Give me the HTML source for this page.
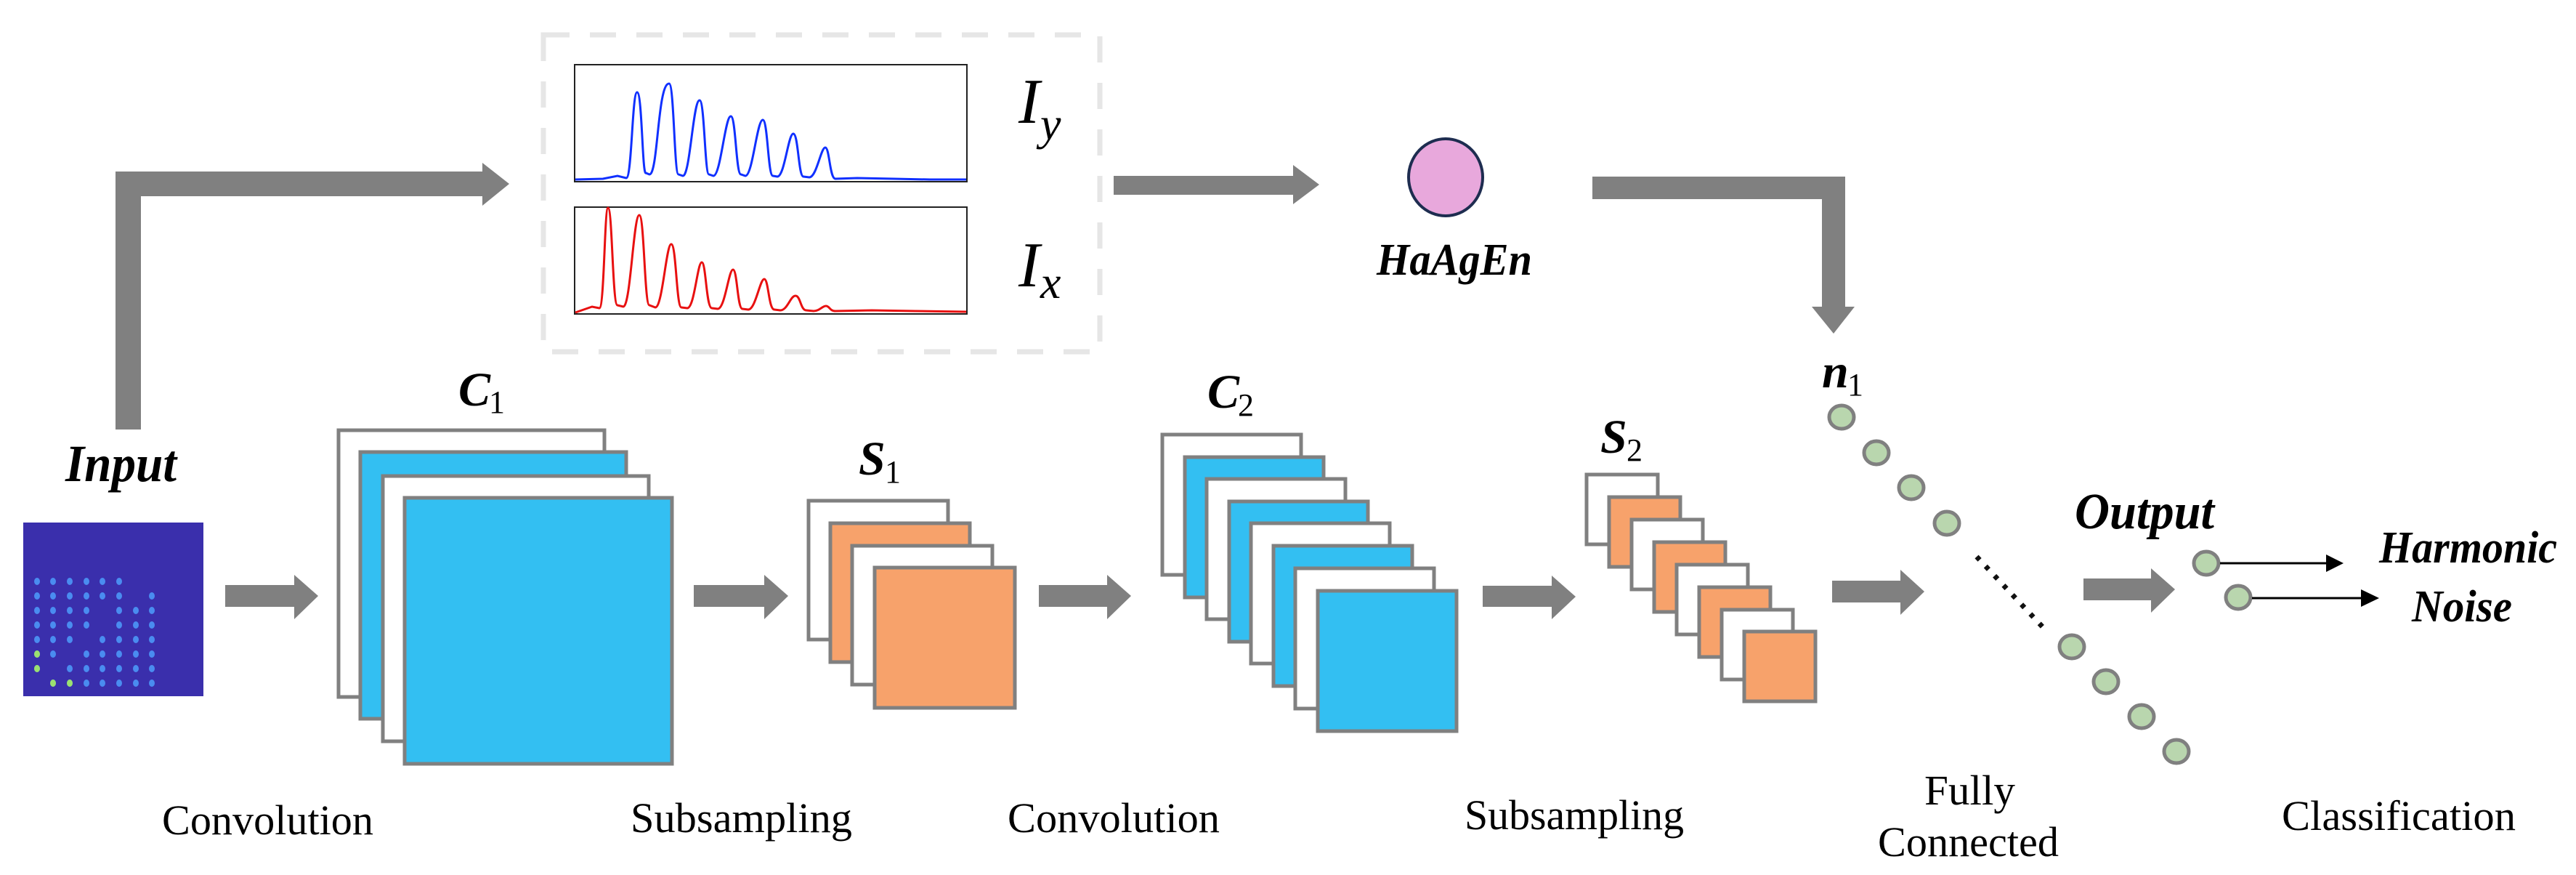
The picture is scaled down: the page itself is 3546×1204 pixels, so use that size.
<!DOCTYPE html>
<html><head><meta charset="utf-8"><style>html,body{margin:0;padding:0;background:#fff}svg{display:block}</style></head><body>
<svg width="3546" height="1204" viewBox="0 0 3546 1204" xmlns="http://www.w3.org/2000/svg" font-family="Liberation Serif, serif">
<rect width="3546" height="1204" fill="#fff"/>
<!-- dashed box -->
<rect x="748" y="48" width="766" height="436" fill="none" stroke="#e6e6e6" stroke-width="7" stroke-dasharray="36,28"/>
<!-- plots -->
<rect x="791" y="89" width="540" height="161" fill="#fff" stroke="#222" stroke-width="2"/>
<rect x="791" y="285" width="540" height="147" fill="#fff" stroke="#222" stroke-width="2"/>
<path fill="none" stroke="#1030ff" stroke-width="3" d="M792 247 L830 246 L850 242 L862 245 C870 245 870 127 877 127 C884 127 884 240 889 238 L894 240 C906 240 905 115 921 115 C928 115 928 240 934 240 L940 242 C950 242 954 138 963 138 C970 138 970 240 976 240 L982 242 C992 242 998 160 1006 160 C1013 160 1013 240 1020 240 L1026 242 C1036 242 1042 165 1050 165 C1057 165 1057 242 1064 242 L1070 243 C1080 243 1085 184 1092 184 C1099 184 1099 243 1106 243 L1114 244 C1124 244 1130 203 1136 203 C1142 203 1142 246 1150 246 L1180 245 L1230 246 L1280 247 L1330 247"/>
<path fill="none" stroke="#e81010" stroke-width="3" d="M792 430 L815 422 L825 424 C832 424 832 286 837 286 C843 286 843 420 850 420 L858 422 C868 422 872 296 880 296 C887 296 887 420 894 420 L902 423 C912 423 917 336 924 336 C931 336 931 423 938 423 L946 424 C956 424 960 361 966 361 C972 361 972 424 980 424 L988 425 C998 425 1003 371 1009 371 C1015 371 1015 425 1022 425 L1030 426 C1040 426 1046 384 1052 384 C1058 384 1058 426 1066 426 L1074 427 C1084 427 1088 407 1095 407 C1102 407 1102 427 1110 427 L1120 428 C1128 428 1132 421 1137 421 C1142 421 1142 428 1150 428 L1200 427 L1260 428 L1330 429"/>
<text x="1402" y="169" font-size="88" font-style="italic">I</text><text x="1432" y="192" font-size="64" font-style="italic">y</text>
<text x="1402" y="394" font-size="88" font-style="italic">I</text><text x="1432" y="410" font-size="64" font-style="italic">x</text>
<g fill="#808080">
<!-- input L arrow -->
<rect x="159" y="236" width="35" height="355"/>
<rect x="159" y="236" width="508" height="34"/>
<polygon points="664,224 701,253 664,283"/>
<!-- box to HaAgEn -->
<rect x="1533" y="242" width="250" height="26"/>
<polygon points="1780,227 1816,254 1780,281"/>
<!-- right L arrow -->
<rect x="2192" y="243" width="348" height="31"/>
<rect x="2508" y="243" width="32" height="182"/>
<polygon points="2494,422 2553,422 2524,459"/>
<!-- horizontal arrows -->
<rect x="310" y="805" width="98" height="30"/><polygon points="405,791 438,820 405,852"/>
<rect x="955" y="805" width="100" height="30"/><polygon points="1052,791 1085,820 1052,852"/>
<rect x="1430" y="805" width="97" height="30"/><polygon points="1524,791 1557,820 1524,852"/>
<rect x="2041" y="806" width="98" height="29"/><polygon points="2136,792 2169,821 2136,852"/>
<rect x="2522" y="799" width="97" height="30"/><polygon points="2616,784 2649,814 2616,846"/>
<rect x="2868" y="796" width="96" height="30"/><polygon points="2961,782 2994,811 2961,843"/>
</g>
<!-- HaAgEn -->
<ellipse cx="1990" cy="244" rx="51" ry="53" fill="#e8a8dc" stroke="#1e2d50" stroke-width="4"/>
<text x="1895" y="378" font-size="62" font-weight="bold" font-style="italic" textLength="214" lengthAdjust="spacingAndGlyphs">HaAgEn</text>
<!-- input image -->
<rect x="32" y="719" width="248" height="239" fill="#3a2fac"/>
<g fill="#4a8cf0">
<ellipse cx="51" cy="800" rx="4" ry="5"/><ellipse cx="73" cy="800" rx="4" ry="5"/><ellipse cx="96" cy="800" rx="4" ry="5"/><ellipse cx="119" cy="800" rx="4" ry="5"/><ellipse cx="141" cy="800" rx="4" ry="5"/><ellipse cx="164" cy="800" rx="4" ry="5"/>
<ellipse cx="51" cy="820" rx="4" ry="5"/><ellipse cx="73" cy="820" rx="4" ry="5"/><ellipse cx="96" cy="820" rx="4" ry="5"/><ellipse cx="119" cy="820" rx="4" ry="5"/><ellipse cx="141" cy="820" rx="4" ry="5"/><ellipse cx="164" cy="820" rx="4" ry="5"/><ellipse cx="209" cy="820" rx="4" ry="5"/>
<ellipse cx="51" cy="840" rx="4" ry="5"/><ellipse cx="73" cy="840" rx="4" ry="5"/><ellipse cx="96" cy="840" rx="4" ry="5"/><ellipse cx="119" cy="840" rx="4" ry="5"/><ellipse cx="164" cy="840" rx="4" ry="5"/><ellipse cx="187" cy="840" rx="4" ry="5"/><ellipse cx="209" cy="840" rx="4" ry="5"/>
<ellipse cx="51" cy="860" rx="4" ry="5"/><ellipse cx="73" cy="860" rx="4" ry="5"/><ellipse cx="96" cy="860" rx="4" ry="5"/><ellipse cx="119" cy="860" rx="4" ry="5"/><ellipse cx="164" cy="860" rx="4" ry="5"/><ellipse cx="187" cy="860" rx="4" ry="5"/><ellipse cx="209" cy="860" rx="4" ry="5"/>
<ellipse cx="51" cy="880" rx="4" ry="5"/><ellipse cx="73" cy="880" rx="4" ry="5"/><ellipse cx="96" cy="880" rx="4" ry="5"/><ellipse cx="141" cy="880" rx="4" ry="5"/><ellipse cx="164" cy="880" rx="4" ry="5"/><ellipse cx="187" cy="880" rx="4" ry="5"/><ellipse cx="209" cy="880" rx="4" ry="5"/>
<ellipse cx="51" cy="900" rx="4" ry="5"/><ellipse cx="73" cy="900" rx="4" ry="5"/><ellipse cx="119" cy="900" rx="4" ry="5"/><ellipse cx="141" cy="900" rx="4" ry="5"/><ellipse cx="164" cy="900" rx="4" ry="5"/><ellipse cx="187" cy="900" rx="4" ry="5"/><ellipse cx="209" cy="900" rx="4" ry="5"/>
<ellipse cx="51" cy="920" rx="4" ry="5"/><ellipse cx="96" cy="920" rx="4" ry="5"/><ellipse cx="119" cy="920" rx="4" ry="5"/><ellipse cx="141" cy="920" rx="4" ry="5"/><ellipse cx="164" cy="920" rx="4" ry="5"/><ellipse cx="187" cy="920" rx="4" ry="5"/><ellipse cx="209" cy="920" rx="4" ry="5"/>
<ellipse cx="73" cy="940" rx="4" ry="5"/><ellipse cx="96" cy="940" rx="4" ry="5"/><ellipse cx="119" cy="940" rx="4" ry="5"/><ellipse cx="141" cy="940" rx="4" ry="5"/><ellipse cx="164" cy="940" rx="4" ry="5"/><ellipse cx="187" cy="940" rx="4" ry="5"/><ellipse cx="209" cy="940" rx="4" ry="5"/>
</g>
<g fill="#9be070"><ellipse cx="51" cy="900" rx="4" ry="5"/><ellipse cx="51" cy="920" rx="4" ry="5"/><ellipse cx="73" cy="940" rx="4" ry="5"/><ellipse cx="96" cy="940" rx="4" ry="5"/></g>
<text x="90" y="662" font-size="72" font-weight="bold" font-style="italic" textLength="153" lengthAdjust="spacingAndGlyphs">Input</text>
<!-- C1 -->
<g stroke="#808080" stroke-width="5">
<rect x="466" y="592" width="366" height="367" fill="#fff"/>
<rect x="496" y="622" width="366" height="367" fill="#33bff2"/>
<rect x="527" y="655" width="366" height="365" fill="#fff"/>
<rect x="557" y="685" width="368" height="366" fill="#33bff2"/>
<!-- S1 -->
<rect x="1113" y="689" width="192" height="191" fill="#fff"/>
<rect x="1143" y="720" width="192" height="191" fill="#f7a26b"/>
<rect x="1173" y="751" width="193" height="191" fill="#fff"/>
<rect x="1204" y="781" width="193" height="193" fill="#f7a26b"/>
<!-- C2 -->
<rect x="1600" y="598" width="191" height="193" fill="#fff"/>
<rect x="1631" y="629" width="191" height="193" fill="#33bff2"/>
<rect x="1661" y="659" width="191" height="193" fill="#fff"/>
<rect x="1692" y="690" width="191" height="193" fill="#33bff2"/>
<rect x="1722" y="720" width="191" height="193" fill="#fff"/>
<rect x="1753" y="751" width="191" height="193" fill="#33bff2"/>
<rect x="1783" y="782" width="191" height="193" fill="#fff"/>
<rect x="1814" y="813" width="191" height="193" fill="#33bff2"/>
<!-- S2 -->
<rect x="2184" y="653" width="98" height="96" fill="#fff"/>
<rect x="2215" y="684" width="98" height="96" fill="#f7a26b"/>
<rect x="2246" y="715" width="98" height="96" fill="#fff"/>
<rect x="2277" y="746" width="98" height="96" fill="#f7a26b"/>
<rect x="2308" y="777" width="98" height="96" fill="#fff"/>
<rect x="2339" y="808" width="98" height="96" fill="#f7a26b"/>
<rect x="2370" y="839" width="98" height="96" fill="#fff"/>
<rect x="2401" y="869" width="98" height="96" fill="#f7a26b"/>
</g>
<g font-weight="bold" font-style="italic">
<text x="631" y="558" font-size="66">C</text><text x="673" y="568" font-size="44" font-weight="normal" font-style="normal">1</text>
<text x="1182" y="653" font-size="66">S</text><text x="1218" y="664" font-size="44" font-weight="normal" font-style="normal">1</text>
<text x="1662" y="561" font-size="66">C</text><text x="1704" y="572" font-size="44" font-weight="normal" font-style="normal">2</text>
<text x="2203" y="623" font-size="66">S</text><text x="2239" y="634" font-size="44" font-weight="normal" font-style="normal">2</text>
<text x="2508" y="533" font-size="66">n</text><text x="2543" y="544" font-size="44" font-weight="normal" font-style="normal">1</text>
<text x="2856" y="727" font-size="70" textLength="192" lengthAdjust="spacingAndGlyphs">Output</text>
<text x="3275" y="774" font-size="62" textLength="245" lengthAdjust="spacingAndGlyphs">Harmonic</text>
<text x="3320" y="855" font-size="62" textLength="138" lengthAdjust="spacingAndGlyphs">Noise</text>
</g>
<!-- neurons -->
<g fill="#b9d6ae" stroke="#808080" stroke-width="5">
<ellipse cx="2535" cy="574" rx="17" ry="16"/><ellipse cx="2583" cy="623" rx="17" ry="16"/><ellipse cx="2631" cy="671" rx="17" ry="16"/><ellipse cx="2680" cy="720" rx="17" ry="16"/>
<ellipse cx="2852" cy="890" rx="17" ry="16"/><ellipse cx="2899" cy="938" rx="17" ry="16"/><ellipse cx="2948" cy="986" rx="17" ry="16"/><ellipse cx="2996" cy="1034" rx="17" ry="16"/>
<ellipse cx="3037" cy="775" rx="17" ry="16"/><ellipse cx="3081" cy="822" rx="17" ry="16"/>
</g>
<line x1="2721" y1="766" x2="2813" y2="864" stroke="#111" stroke-width="7" stroke-dasharray="6,12"/>
<line x1="3056" y1="775" x2="3205" y2="775" stroke="#000" stroke-width="3"/><polygon points="3202,763 3226,775 3202,787"/>
<line x1="3100" y1="823" x2="3252" y2="823" stroke="#000" stroke-width="3"/><polygon points="3250,811 3275,823 3250,835"/>
<!-- bottom labels -->
<g font-size="58" fill="#000">
<text x="223" y="1148" textLength="291" lengthAdjust="spacingAndGlyphs">Convolution</text>
<text x="868" y="1145" textLength="305" lengthAdjust="spacingAndGlyphs">Subsampling</text>
<text x="1387" y="1145" textLength="292" lengthAdjust="spacingAndGlyphs">Convolution</text>
<text x="2016" y="1141" textLength="302" lengthAdjust="spacingAndGlyphs">Subsampling</text>
<text x="2649" y="1107" textLength="125" lengthAdjust="spacingAndGlyphs">Fully</text>
<text x="2585" y="1178" textLength="249" lengthAdjust="spacingAndGlyphs">Connected</text>
<text x="3141" y="1142" textLength="322" lengthAdjust="spacingAndGlyphs">Classification</text>
</g>
</svg>
</body></html>
